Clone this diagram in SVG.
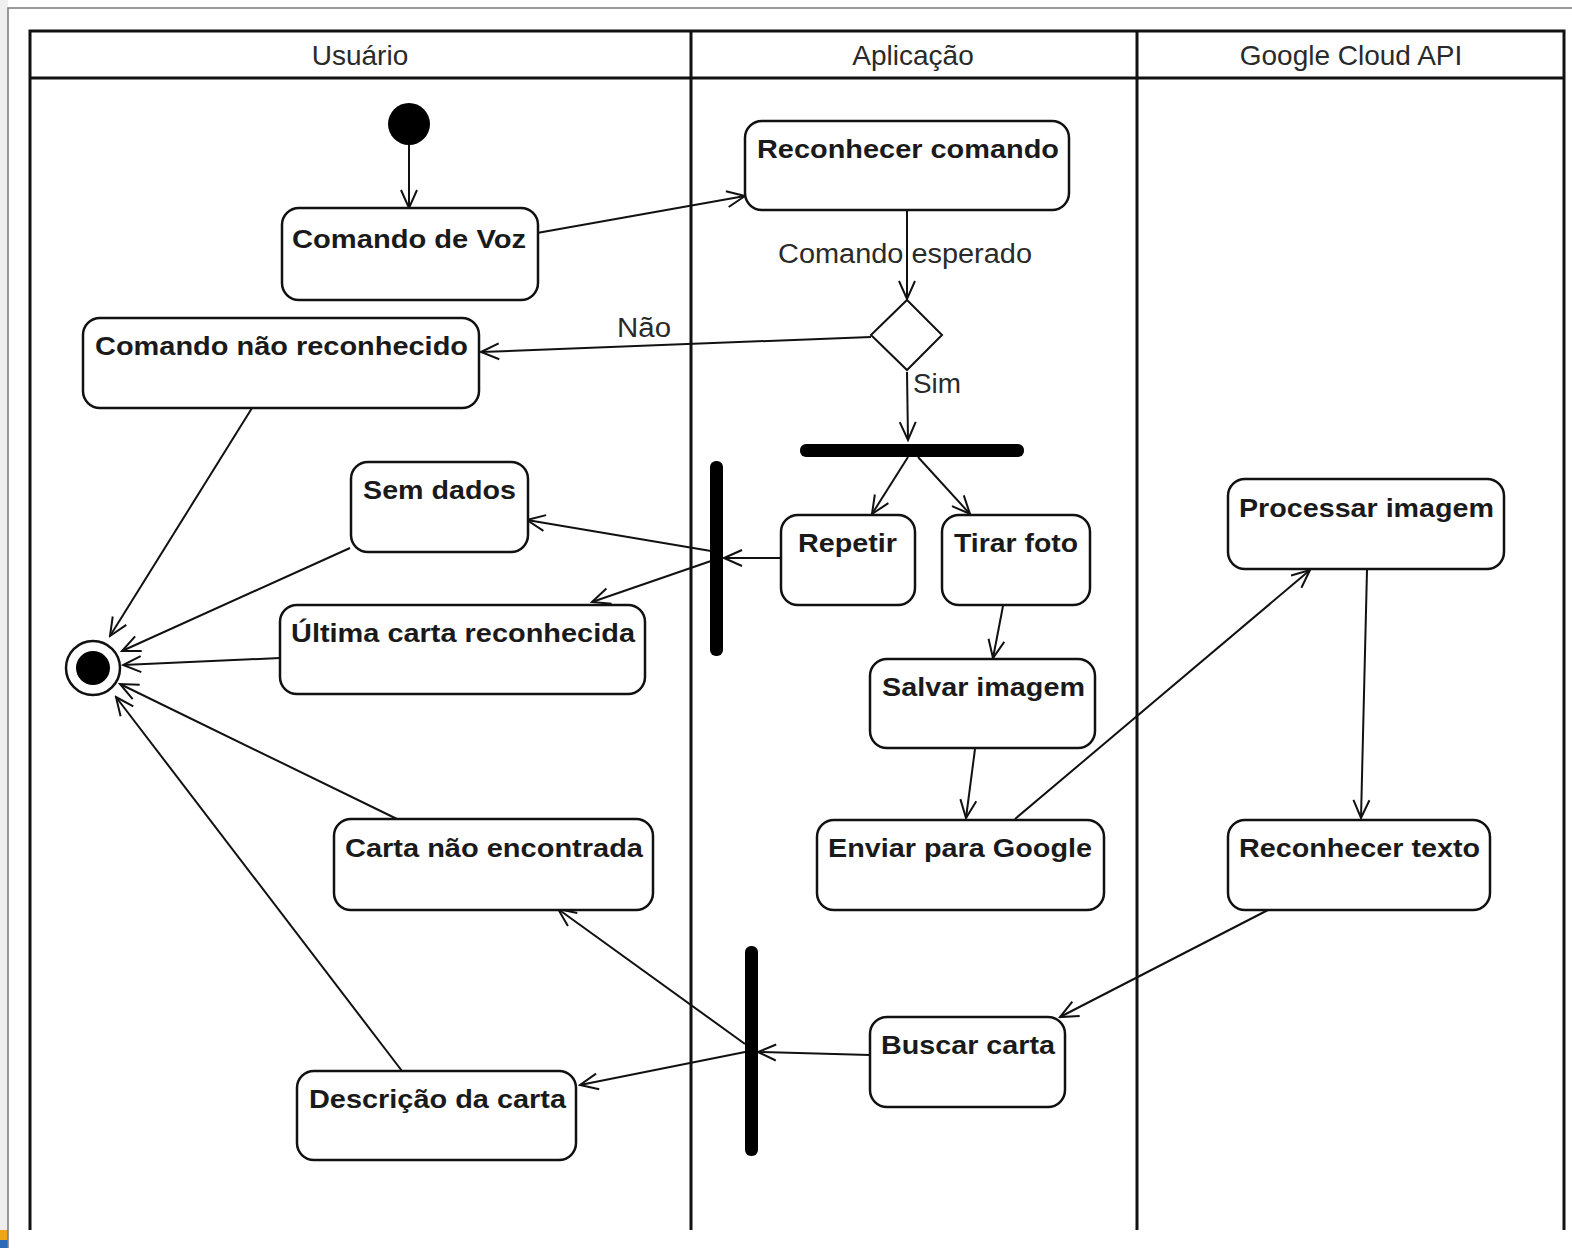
<svg xmlns="http://www.w3.org/2000/svg" width="1572" height="1248" viewBox="0 0 1572 1248">
  <style>
    .lane { fill: none; stroke: #111; stroke-width: 3; }
    .act { fill: #fff; stroke: #111; stroke-width: 2.5; }
    .lbl { font-family: "Liberation Sans", Arial, sans-serif; font-weight: bold; font-size: 26px; fill: #1a1a1a; }
    .hdr { font-family: "Liberation Sans", Arial, sans-serif; font-size: 28px; fill: #2a2a2a; }
    .elbl { font-family: "Liberation Sans", Arial, sans-serif; font-size: 27px; fill: #2a2a2a; }
    .edge { fill: none; stroke: #111; stroke-width: 2; marker-end: url(#open); }
    .bar { fill: #000; }
  </style>
  <defs>
    <marker id="open" viewBox="-20 -10 22 20" refX="0" refY="0" markerWidth="22" markerHeight="20" markerUnits="userSpaceOnUse" orient="auto">
      <path d="M-18,-8 L0,0 L-18,8" fill="none" stroke="#111" stroke-width="2"/>
    </marker>
  </defs>

  <!-- page background and frame -->
  <rect x="0" y="0" width="1572" height="1248" fill="#fff"/>
  <rect x="0" y="0" width="8" height="1248" fill="#efefef"/>
  <rect x="0" y="1230" width="8" height="10" fill="#f0a41c"/>
  <rect x="0" y="1240" width="8" height="8" fill="#2a6ab8"/>
  <path d="M8,1248 V8 H1572" fill="none" stroke="#7a7a7a" stroke-width="1.5"/>

  <!-- swimlanes -->
  <g id="lanes">
    <path class="lane" d="M30,1230 V31 H1564 V1230"/>
    <line class="lane" x1="30" y1="78" x2="1564" y2="78"/>
    <line class="lane" x1="691" y1="31" x2="691" y2="1230"/>
    <line class="lane" x1="1137" y1="31" x2="1137" y2="1230"/>
    <text class="hdr" x="360" y="65" text-anchor="middle">Usuário</text>
    <text class="hdr" x="913" y="65" text-anchor="middle">Aplicação</text>
    <text class="hdr" x="1351" y="65" text-anchor="middle">Google Cloud API</text>
  </g>

  <!-- connectors -->
  <g id="connectors">
    <line class="edge" x1="409" y1="145" x2="409" y2="208"/>
    <line class="edge" x1="537" y1="233" x2="745" y2="196"/>
    <line class="edge" x1="907" y1="211" x2="907" y2="299"/>
    <line class="edge" x1="871" y1="337" x2="481" y2="352"/>
    <line class="edge" x1="907" y1="372" x2="908" y2="440"/>
    <line class="edge" x1="908" y1="457" x2="872" y2="514"/>
    <line class="edge" x1="918" y1="457" x2="970" y2="514"/>
    <line class="edge" x1="781" y1="558" x2="724" y2="558"/>
    <line class="edge" x1="711" y1="551" x2="527" y2="520"/>
    <line class="edge" x1="711" y1="561" x2="592" y2="602"/>
    <line class="edge" x1="1003" y1="606" x2="993" y2="658"/>
    <line class="edge" x1="975" y1="749" x2="966" y2="818"/>
    <line class="edge" x1="1015" y1="819" x2="1310" y2="570"/>
    <line class="edge" x1="1367" y1="570" x2="1361" y2="818"/>
    <line class="edge" x1="1268" y1="910" x2="1060" y2="1017"/>
    <line class="edge" x1="870" y1="1055" x2="758" y2="1052"/>
    <line class="edge" x1="745" y1="1044" x2="558" y2="909"/>
    <line class="edge" x1="745" y1="1052" x2="580" y2="1085"/>
    <line class="edge" x1="252" y1="408" x2="110" y2="636"/>
    <line class="edge" x1="350" y1="548" x2="122" y2="651"/>
    <line class="edge" x1="280" y1="658" x2="123" y2="665"/>
    <line class="edge" x1="397" y1="819" x2="120" y2="684"/>
    <line class="edge" x1="402" y1="1071" x2="116" y2="697"/>
    <text class="elbl" x="778" y="263" textLength="254" lengthAdjust="spacingAndGlyphs">Comando esperado</text>
    <text class="elbl" x="617" y="337" textLength="54" lengthAdjust="spacingAndGlyphs">Não</text>
    <text class="elbl" x="913" y="393" textLength="48" lengthAdjust="spacingAndGlyphs">Sim</text>
  </g>

  <!-- start / end -->
  <g id="start"><circle cx="409" cy="124" r="21" fill="#000"/></g>
  <g id="end">
    <circle cx="93" cy="668" r="27" fill="#fff" stroke="#111" stroke-width="2.5"/>
    <circle cx="93" cy="668" r="17" fill="#000"/>
  </g>

  <!-- decision -->
  <g id="decision"><path d="M907,300 L942,335 L907,370 L871,335 Z" fill="#fff" stroke="#111" stroke-width="2"/></g>

  <!-- fork / join bars -->
  <g id="fork-top"><rect class="bar" x="800" y="444" width="224" height="13" rx="6"/></g>
  <g id="join-left"><rect class="bar" x="710" y="461" width="13" height="195" rx="6"/></g>
  <g id="join-bottom"><rect class="bar" x="745" y="946" width="13" height="210" rx="6"/></g>

  <!-- activities -->
  <g id="comando-voz">
    <rect class="act" x="282" y="208" width="256" height="92" rx="17"/>
    <text class="lbl" x="292" y="248" textLength="234" lengthAdjust="spacingAndGlyphs">Comando de Voz</text>
  </g>
  <g id="reconhecer-comando">
    <rect class="act" x="745" y="121" width="324" height="89" rx="17"/>
    <text class="lbl" x="757" y="158" textLength="302" lengthAdjust="spacingAndGlyphs">Reconhecer comando</text>
  </g>
  <g id="comando-nao-reconhecido">
    <rect class="act" x="83" y="318" width="396" height="90" rx="17"/>
    <text class="lbl" x="95" y="355" textLength="373" lengthAdjust="spacingAndGlyphs">Comando não reconhecido</text>
  </g>
  <g id="sem-dados">
    <rect class="act" x="351" y="462" width="177" height="90" rx="17"/>
    <text class="lbl" x="363" y="499" textLength="153" lengthAdjust="spacingAndGlyphs">Sem dados</text>
  </g>
  <g id="repetir">
    <rect class="act" x="781" y="515" width="134" height="90" rx="17"/>
    <text class="lbl" x="798" y="552" textLength="99" lengthAdjust="spacingAndGlyphs">Repetir</text>
  </g>
  <g id="tirar-foto">
    <rect class="act" x="942" y="515" width="148" height="90" rx="17"/>
    <text class="lbl" x="954" y="552" textLength="124" lengthAdjust="spacingAndGlyphs">Tirar foto</text>
  </g>
  <g id="ultima-carta">
    <rect class="act" x="280" y="605" width="365" height="89" rx="17"/>
    <text class="lbl" x="291" y="642" textLength="344" lengthAdjust="spacingAndGlyphs">Última carta reconhecida</text>
  </g>
  <g id="salvar-imagem">
    <rect class="act" x="870" y="659" width="225" height="89" rx="17"/>
    <text class="lbl" x="882" y="696" textLength="203" lengthAdjust="spacingAndGlyphs">Salvar imagem</text>
  </g>
  <g id="processar-imagem">
    <rect class="act" x="1228" y="479" width="276" height="90" rx="17"/>
    <text class="lbl" x="1239" y="517" textLength="255" lengthAdjust="spacingAndGlyphs">Processar imagem</text>
  </g>
  <g id="carta-nao-encontrada">
    <rect class="act" x="334" y="819" width="319" height="91" rx="17"/>
    <text class="lbl" x="345" y="857" textLength="298" lengthAdjust="spacingAndGlyphs">Carta não encontrada</text>
  </g>
  <g id="enviar-google">
    <rect class="act" x="817" y="820" width="287" height="90" rx="17"/>
    <text class="lbl" x="828" y="857" textLength="264" lengthAdjust="spacingAndGlyphs">Enviar para Google</text>
  </g>
  <g id="reconhecer-texto">
    <rect class="act" x="1228" y="820" width="262" height="90" rx="17"/>
    <text class="lbl" x="1239" y="857" textLength="241" lengthAdjust="spacingAndGlyphs">Reconhecer texto</text>
  </g>
  <g id="buscar-carta">
    <rect class="act" x="870" y="1017" width="195" height="90" rx="17"/>
    <text class="lbl" x="881" y="1054" textLength="174" lengthAdjust="spacingAndGlyphs">Buscar carta</text>
  </g>
  <g id="descricao-carta">
    <rect class="act" x="297" y="1071" width="279" height="89" rx="17"/>
    <text class="lbl" x="309" y="1108" textLength="257" lengthAdjust="spacingAndGlyphs">Descrição da carta</text>
  </g>
</svg>
